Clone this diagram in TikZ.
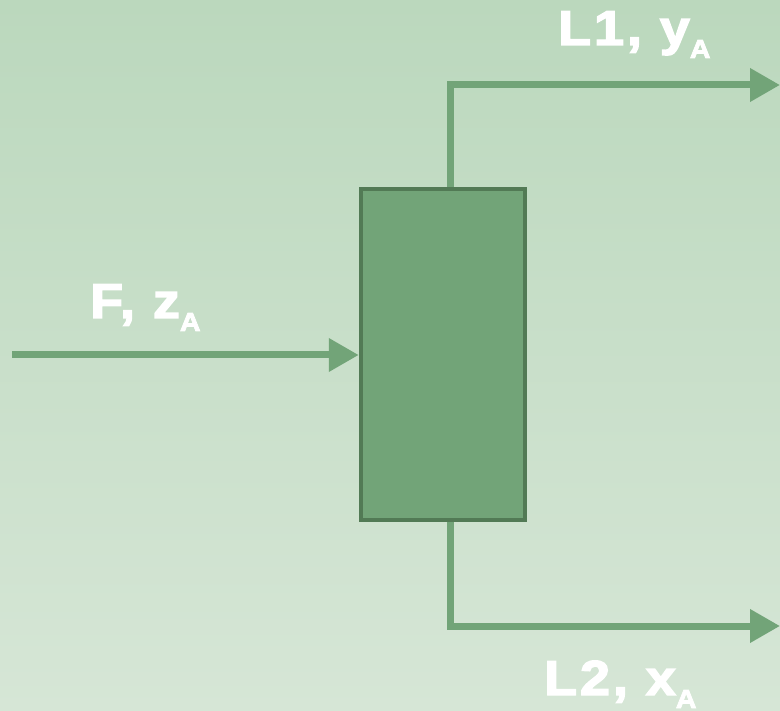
\documentclass[tikz,border=0pt]{standalone}
\usepackage{fontspec}
\setmainfont{Liberation Sans}[BoldFeatures={FakeBold=3,FakeStretch=1.1,LetterSpace=6}]
\usetikzlibrary{arrows.meta}
\definecolor{bgtop}{HTML}{BBD8BD}
\definecolor{bgbot}{HTML}{D6E6D6}
\definecolor{flow}{HTML}{72A478}
\definecolor{boxedge}{HTML}{527A55}
\newcommand{\subA}{\raisebox{-13pt}{\fontsize{26}{26}\selectfont A}}
\pgfdeclarelayer{back}
\pgfdeclarelayer{bg}
\pgfsetlayers{back,bg,main}
\begin{document}
\begin{tikzpicture}[x=1pt,y=-1pt,
  flowline/.style={draw=flow,line width=7pt,-{Triangle[length=30pt,width=32pt]}},
  lbl/.style={text=white,font=\fontsize{49}{49}\selectfont\bfseries,inner sep=0pt,anchor=base west},
  unitbox/.style={draw=boxedge,fill=flow,line width=4.5pt,minimum width=164pt,minimum height=331pt,inner sep=0pt}]
\begin{pgfonlayer}{back}
\shade[top color=bgtop,bottom color=bgbot] (0,0) rectangle (780,711);
\end{pgfonlayer}
\useasboundingbox (0,0) rectangle (780,711);
\node[unitbox] (unit) at (443,354.5) {};
\coordinate (feed) at (12,355);
\coordinate (topbend) at (450,85);
\coordinate (topend) at (780,85);
\coordinate (botbend) at (450,626);
\coordinate (botend) at (780,626);
\begin{pgfonlayer}{bg}
\draw[flowline] ([xshift=7pt]unit.north) -- (topbend) -- (topend);
\draw[flowline] ([xshift=7pt]unit.south) -- (botbend) -- (botend);
\end{pgfonlayer}
\draw[flowline] (feed) -- (feed -| unit.west);
\node[lbl] (l1) at (558,45) {L1, y\subA};
\node[lbl] (f) at (90,318) {F, z\subA};
\node[lbl] (l2) at (544,695) {L2, x\subA};
\end{tikzpicture}
\end{document}
